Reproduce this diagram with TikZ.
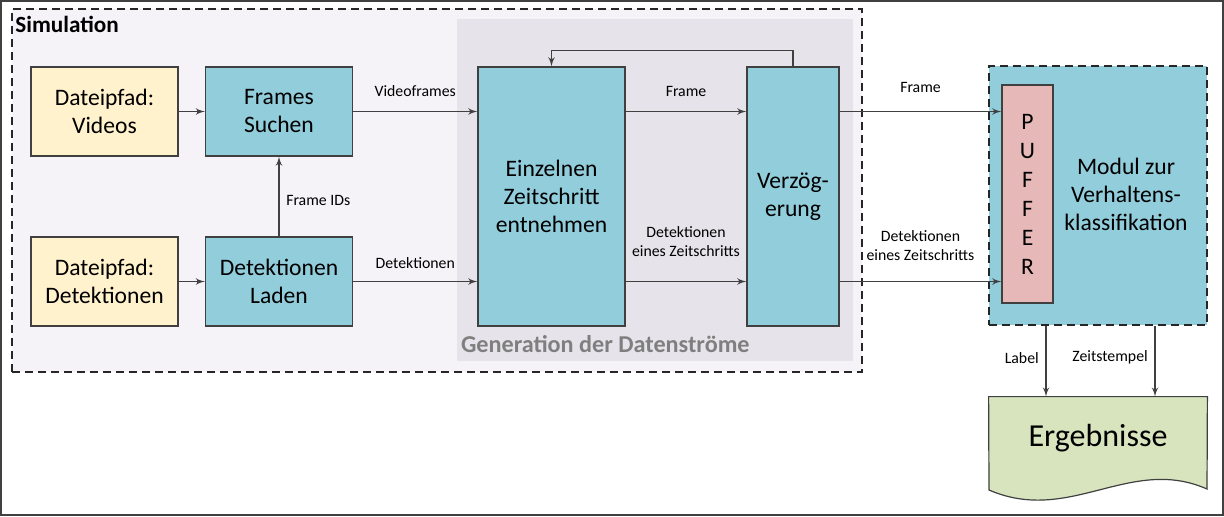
\documentclass[tikz,border=0pt]{standalone}
\usepackage{fontspec}
\setmainfont{Carlito}
\usepackage{tikz}
\usetikzlibrary{positioning,arrows}

\definecolor{linegray}{HTML}{404040}
\definecolor{dashgray}{HTML}{262626}
\definecolor{simfill}{HTML}{F5F3F8}
\definecolor{genfill}{HTML}{E6E4EA}
\definecolor{pathfill}{HTML}{FFF2CC}
\definecolor{procfill}{HTML}{92CDDC}
\definecolor{bufffill}{HTML}{E6B9B8}
\definecolor{ergfill}{HTML}{D7E4BD}
\definecolor{gentext}{HTML}{7F7F7F}

\newcommand{\boxfont}{\fontsize{11.8}{14}\selectfont}
\newcommand{\lblfont}{\fontsize{7.9}{9.5}\selectfont}

\begin{document}
\begin{tikzpicture}[x=0.5pt, y=-0.5pt,
	box/.style={rectangle, draw=linegray, line width=0.6pt, align=center, font=\boxfont, minimum width=73.5pt, minimum height=44.5pt},
	flow/.style={draw=linegray, line width=0.6pt, -latex'},
	lbl/.style={font=\lblfont, align=center, text=black},
	dashbox/.style={draw=dashgray, line width=1pt, dash pattern=on 4pt off 2.5pt}]
	\useasboundingbox (0,0) rectangle (1224,516);
	\draw[line width=0.6pt, draw=black!75] (1,1) rectangle (1223,515);

	% containers
	\node[dashbox, fill=simfill, minimum width=425pt, minimum height=181.5pt] (sim) at (437,190.5) {};
	\node[anchor=north west, inner sep=2pt, font=\fontsize{11.6}{14}\selectfont\bfseries] (simtitle) at ([yshift=-1.9pt]sim.north west) {Simulation};
	\node[fill=genfill, minimum width=198pt, minimum height=171pt] (gen) at (655,190) {};
	\node[anchor=south west, inner sep=2pt, text=gentext, font=\fontsize{12.1}{14}\selectfont\bfseries] (gentitle) at ([yshift=2.3pt]gen.south west) {Generation der Datenströme};

	% inputs
	\node[box, fill=pathfill] (vid) at (104.5,111.5) {Dateipfad:\\Videos};
	\node[below of=vid, node distance=85pt, box, fill=pathfill] (detpath) {Dateipfad:\\Detektionen};
	\node[right of=vid, node distance=87.25pt, box, fill=procfill] (frames) {Frames\\Suchen};
	\node[right of=detpath, node distance=87.25pt, box, fill=procfill] (laden) {Detektionen\\Laden};

	% data streams
	\node[box, fill=procfill, minimum height=129.5pt] (einzel) at (551.5,196.5) {Einzelnen\\Zeitschritt\\entnehmen};
	\node[right of=einzel, node distance=120.75pt, box, fill=procfill, minimum width=46pt, minimum height=129.5pt] (verz) {Verzög-\\erung};

	% classification
	\node[dashbox, fill=procfill, minimum width=109pt, minimum height=129.5pt] (modul) at (1098,195.5) {};
	\node[box, fill=bufffill, minimum width=25.5pt, minimum height=109pt, font=\fontsize{11.8}{14.5}\selectfont] (puffer) at (1027.5,194) {P\\U\\F\\F\\E\\R};
	\node[right of=puffer, node distance=49.25pt, align=center, font=\boxfont] (modtext) {Modul zur\\Verhaltens-\\klassifikation};

	% results
	\node[minimum width=109pt, minimum height=46.5pt, inner sep=0pt] (erg) at (1098,443.5) {};
	\filldraw[fill=ergfill, draw=linegray, line width=0.6pt] (erg.north west) -- (erg.north east) -- (1207,489) .. controls (1130,455) and (1070,525) .. (989,490) -- cycle;
	\node[font=\fontsize{16}{18}\selectfont] (ergtext) at ([yshift=2.5pt]erg.center) {Ergebnisse};

	\path [flow] (vid) -- (frames);
	\path [flow] (detpath) -- (laden);
	\path [flow] (laden) -- node[lbl, right, pos=0.45] {Frame IDs} (frames);
	\path [flow] (frames) -- node[lbl, above=4pt] {Videoframes} (frames -| einzel.west);
	\path [flow] (laden) -- node[lbl, above=3pt] {Detektionen} (laden -| einzel.west);
	\path [flow] (einzel.east |- frames) -- node[lbl, above=4pt] {Frame} (verz.west |- frames);
	\path [flow] (einzel.east |- laden) -- node[lbl, above=9pt] {Detektionen\\eines Zeitschritts} (verz.west |- laden);
	\path [flow] (verz.north) -- ++(0,8pt) -| (einzel.north);
	\path [flow] (verz.east |- frames) -- node[lbl, above=6pt] {Frame} (puffer.west |- frames);
	\path [flow] (verz.east |- laden) -- node[lbl, above=7pt] {Detektionen\\eines Zeitschritts} (puffer.west |- laden);
	\path [flow] ([xshift=-26pt]modul.south) -- node[lbl, left, pos=0.45] {Label} ([xshift=-26pt]erg.north);
	\path [flow] ([xshift=28.5pt]modul.south) -- node[lbl, left, pos=0.45] {Zeitstempel} ([xshift=28.5pt]erg.north);
\end{tikzpicture}
\end{document}
